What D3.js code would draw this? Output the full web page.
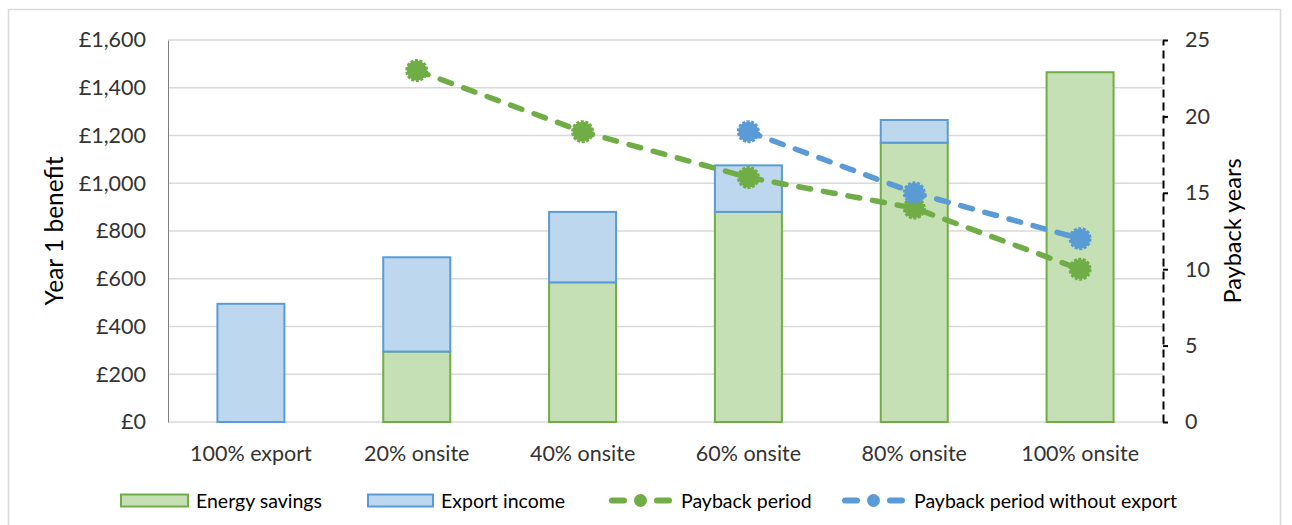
<!DOCTYPE html>
<html>
<head>
<meta charset="utf-8">
<script src="https://cdn.jsdelivr.net/npm/d3@7/dist/d3.min.js"></script>
<style>
  html, body { margin: 0; padding: 0; background: #fff; }
  svg { display: block; font-family: Lato, "Open Sans", sans-serif; }
</style>
</head>
<body>
<svg id="chart" width="1292" height="525"></svg>
<script>
// Year 1 benefit by generation split, with payback periods
const categories = ["100% export", "20% onsite", "40% onsite", "60% onsite", "80% onsite", "100% onsite"];
const energySavings = [0, 295, 585, 880, 1170, 1465];
const exportIncome = [495, 395, 295, 195, 95, 0];
const payback = [null, 23, 19, 16, 14, 10];
const paybackNoExport = [null, null, null, 19, 15, 12];
const leftTicks = [0, 200, 400, 600, 800, 1000, 1200, 1400, 1600];
const rightTicks = [0, 5, 10, 15, 20, 25];

const GREEN = "#70AD47", GREEN_FILL = "#C5E0B4";
const BLUE = "#5B9BD5", BLUE_FILL = "#BDD7EE";

const svg = d3.select("#chart");
const plot = { left: 168, right: 1163, top: 40, bottom: 422 };

// outer chart frame
svg.append("rect")
  .attr("x", 8.5).attr("y", 9.5).attr("width", 1272).attr("height", 530)
  .attr("fill", "none").attr("stroke", "#d9d9d9").attr("stroke-width", 1.5);

const x = d3.scaleBand().domain(categories)
  .range([plot.left, plot.right]).paddingInner(0.596).paddingOuter(0.298);
const y = d3.scaleLinear().domain([0, 1600]).range([plot.bottom, plot.top]);
const y2 = d3.scaleLinear().domain([0, 25]).range([plot.bottom, plot.top]);

// gridlines
svg.append("g").selectAll("line").data(leftTicks).join("line")
  .attr("x1", plot.left).attr("x2", plot.right)
  .attr("y1", d => y(d)).attr("y2", d => y(d))
  .attr("stroke", "#d9d9d9").attr("stroke-width", 1.5);

// left axis
const leftAxis = svg.append("g").attr("transform", `translate(${plot.left},0)`)
  .call(d3.axisLeft(y).tickValues(leftTicks).tickSize(0).tickPadding(22)
    .tickFormat(d => "£" + d3.format(",")(d)));
leftAxis.select(".domain").attr("stroke", "#7f7f7f").attr("stroke-width", 1);
leftAxis.selectAll("text").attr("font-size", 21.5).attr("fill", "#333")
  .attr("font-family", "Lato, sans-serif");

// stacked bars
const rows = categories.map((c, i) => ({ c, e: energySavings[i], x: exportIncome[i] }));
const bars = svg.append("g");
bars.selectAll("rect.energy").data(rows.filter(r => r.e > 0)).join("rect")
  .attr("class", "energy")
  .attr("x", d => x(d.c)).attr("width", x.bandwidth())
  .attr("y", d => y(d.e)).attr("height", d => y(0) - y(d.e))
  .attr("fill", GREEN_FILL).attr("stroke", GREEN).attr("stroke-width", 2);
bars.selectAll("rect.export").data(rows.filter(r => r.x > 0)).join("rect")
  .attr("class", "export")
  .attr("x", d => x(d.c)).attr("width", x.bandwidth())
  .attr("y", d => y(d.e + d.x)).attr("height", d => y(d.e) - y(d.e + d.x))
  .attr("fill", BLUE_FILL).attr("stroke", BLUE).attr("stroke-width", 2);

// right axis (dashed)
const rightAxis = svg.append("g").attr("transform", `translate(${plot.right},0)`)
  .call(d3.axisRight(y2).tickValues(rightTicks).tickSize(5).tickPadding(17)
    .tickSizeOuter(0));
rightAxis.select(".domain").attr("stroke", "#000").attr("stroke-width", 2)
  .attr("stroke-dasharray", "8,5");
rightAxis.selectAll(".tick line").attr("stroke", "#000").attr("stroke-width", 2);
rightAxis.selectAll("text").attr("font-size", 21.5).attr("fill", "#333")
  .attr("font-family", "Lato, sans-serif");

// category labels
svg.append("g").selectAll("text").data(categories).join("text")
  .attr("x", d => x(d) + x.bandwidth() / 2).attr("y", 461)
  .attr("text-anchor", "middle").attr("font-size", 21.5).attr("fill", "#333")
  .text(d => d);

// axis titles
svg.append("text")
  .attr("transform", `translate(63,${(plot.top + plot.bottom) / 2}) rotate(-90)`)
  .attr("text-anchor", "middle").attr("font-size", 24.5).attr("fill", "#000")
  .text("Year 1 benefit");
svg.append("text")
  .attr("transform", `translate(1241,${(plot.top + plot.bottom) / 2}) rotate(-90)`)
  .attr("text-anchor", "middle").attr("font-size", 23.5).attr("fill", "#000")
  .text("Payback years");

// payback lines
function drawLine(values, color) {
  const pts = categories.map((c, i) => ({ c, v: values[i] })).filter(d => d.v != null);
  const line = d3.line().x(d => x(d.c) + x.bandwidth() / 2).y(d => y2(d.v));
  const g = svg.append("g");
  g.append("path").datum(pts).attr("d", line)
    .attr("fill", "none").attr("stroke", color).attr("stroke-width", 5.5)
    .attr("stroke-dasharray", "12,13").attr("stroke-linecap", "round");
  g.selectAll("circle").data(pts).join("circle")
    .attr("cx", d => x(d.c) + x.bandwidth() / 2).attr("cy", d => y2(d.v))
    .attr("r", 10).attr("fill", color).attr("stroke", color)
    .attr("stroke-width", 3).attr("stroke-dasharray", "3,1.5");
}
drawLine(payback, GREEN);
drawLine(paybackNoExport, BLUE);

// legend
const legend = svg.append("g").attr("font-size", 19.5).attr("fill", "#000");
const boxItems = [
  { label: "Energy savings", fill: GREEN_FILL, stroke: GREEN, x: 121, w: 67 },
  { label: "Export income", fill: BLUE_FILL, stroke: BLUE, x: 368, w: 65 }
];
boxItems.forEach(it => {
  legend.append("rect").attr("x", it.x).attr("y", 494.5).attr("width", it.w).attr("height", 12)
    .attr("fill", it.fill).attr("stroke", it.stroke).attr("stroke-width", 2);
  legend.append("text").attr("x", it.x + it.w + 8).attr("y", 507.5).text(it.label);
});
const lineItems = [
  { label: "Payback period", color: GREEN, x: 609 },
  { label: "Payback period without export", color: BLUE, x: 842 }
];
lineItems.forEach(it => {
  legend.append("line").attr("x1", it.x + 3).attr("x2", it.x + 60)
    .attr("y1", 500.5).attr("y2", 500.5)
    .attr("stroke", it.color).attr("stroke-width", 6).attr("stroke-linecap", "round")
    .attr("stroke-dasharray", "12,33");
  legend.append("circle").attr("cx", it.x + 31.5).attr("cy", 500.5).attr("r", 6.5)
    .attr("fill", it.color);
  legend.append("text").attr("x", it.x + 72).attr("y", 507.5).text(it.label);
});
</script>
</body>
</html>
